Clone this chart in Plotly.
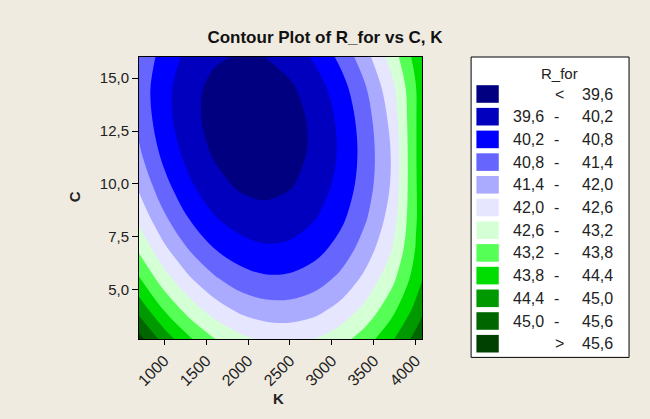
import plotly.graph_objects as go

# grid of the fitted surface (K across, C down)
K_vals = [700, 1000, 1300, 1600, 1900, 2200, 2500, 2800, 3100, 3400, 3700, 4000, 4300]
C_vals = [2.5, 4.0, 5.5, 7.0, 8.5, 10.0, 11.5, 13.0, 14.5, 16.0]
R_for = [
    [45.94, 44.87, 44.01, 43.34, 42.88, 42.62, 42.56, 42.71, 43.05, 43.60, 44.34, 45.29, 46.44],
    [44.83, 43.80, 42.97, 42.34, 41.91, 41.69, 41.67, 41.84, 42.22, 42.80, 43.59, 44.59, 45.78],
    [43.87, 42.87, 42.08, 41.49, 41.09, 40.90, 40.92, 41.13, 41.54, 42.16, 42.98, 44.08, 45.30],
    [43.05, 42.09, 41.33, 40.77, 40.42, 40.26, 40.31, 40.56, 41.01, 41.66, 42.51, 43.82, 45.08],
    [42.38, 41.46, 40.73, 40.21, 39.89, 39.77, 39.85, 40.14, 40.62, 41.31, 42.20, 43.74, 45.03],
    [41.86, 40.97, 40.28, 39.79, 39.50, 39.42, 39.54, 39.86, 40.38, 41.10, 42.02, 43.75, 45.08],
    [41.48, 40.62, 39.97, 39.52, 39.27, 39.22, 39.37, 39.72, 40.28, 41.04, 42.00, 43.76, 45.12],
    [41.24, 40.42, 39.80, 39.39, 39.17, 39.16, 39.35, 39.74, 40.33, 41.12, 42.12, 43.76, 45.16],
    [41.15, 40.38, 39.81, 39.43, 39.26, 39.28, 39.50, 39.91, 40.53, 41.34, 42.35, 43.76, 45.17],
    [41.27, 40.55, 40.02, 39.69, 39.55, 39.60, 39.85, 40.30, 40.94, 41.77, 42.80, 44.02, 45.43],
]

levels = [39.6, 40.2, 40.8, 41.4, 42.0, 42.6, 43.2, 43.8, 44.4, 45.0, 45.6]
level_labels = ["39,6", "40,2", "40,8", "41,4", "42,0", "42,6", "43,2", "43,8", "44,4", "45,0", "45,6"]
band_colors = ["#000080", "#0000BE", "#0000FF", "#6666FF", "#AAAAFF", "#E6E6FF",
               "#D5FFD5", "#55FF55", "#00DD00", "#009900", "#006600", "#004000"]

x_ticks = [1000, 1500, 2000, 2500, 3000, 3500, 4000]
x_ticktext = ["1000", "1500", "2000", "2500", "3000", "3500", "4000"]
y_ticks = [5.0, 7.5, 10.0, 12.5, 15.0]
y_ticktext = ["5,0", "7,5", "10,0", "12,5", "15,0"]

n = len(band_colors)
cs = []
for i, col in enumerate(band_colors):
    a = max(0.0, (i - 0.5) / (n - 1))
    b = min(1.0, (i + 0.5) / (n - 1))
    cs.append([a, col])
    cs.append([b, col])

BG = "#EFEBE1"
FONT = "Liberation Sans"
TXT = "#222222"

fig = go.Figure()
fig.add_trace(go.Contour(
    x=K_vals, y=C_vals, z=R_for,
    autocontour=False,
    contours=dict(start=levels[0], end=levels[-1], size=0.6, coloring="fill", showlines=False),
    line=dict(width=0, smoothing=1.0),
    colorscale=cs, showscale=False, hoverinfo="skip",
))

L, R, T, B = 139.3, 421.7, 57.3, 339.3
W, H = R - L, B - T
def pxx(x):
    return (x - L) / W
def pyy(y):
    return (B - y) / H

shapes = []
annotations = []
shapes.append(dict(type="rect", xref="paper", yref="paper", x0=pxx(470.7), x1=pxx(628.3),
                   y0=pyy(357.7), y1=pyy(57.3), fillcolor="white", line=dict(color="black", width=1)))
annotations.append(dict(xref="paper", yref="paper", x=pxx(559), y=pyy(73.5), text="R_for",
                        showarrow=False, font=dict(family=FONT, size=15, color=TXT),
                        xanchor="center", yanchor="middle"))
for k, col in enumerate(band_colors):
    yc = 94.3 + k * 22.7
    shapes.append(dict(type="rect", xref="paper", yref="paper", x0=pxx(476), x1=pxx(498.3),
                       y0=pyy(yc + 8.8), y1=pyy(yc - 8.8), fillcolor=col, line=dict(width=0)))
    f = dict(family=FONT, size=16, color=TXT)
    if k == 0 or k == n - 1:
        sym = "&lt;" if k == 0 else "&gt;"
        lab = level_labels[0] if k == 0 else level_labels[-1]
        annotations.append(dict(xref="paper", yref="paper", x=pxx(559), y=pyy(yc), text=sym,
                                showarrow=False, font=f, xanchor="center", yanchor="middle"))
        annotations.append(dict(xref="paper", yref="paper", x=pxx(614), y=pyy(yc), text=lab,
                                showarrow=False, font=f, xanchor="right", yanchor="middle"))
    else:
        annotations.append(dict(xref="paper", yref="paper", x=pxx(545), y=pyy(yc), text=level_labels[k - 1],
                                showarrow=False, font=f, xanchor="right", yanchor="middle"))
        annotations.append(dict(xref="paper", yref="paper", x=pxx(556), y=pyy(yc), text="-",
                                showarrow=False, font=f, xanchor="center", yanchor="middle"))
        annotations.append(dict(xref="paper", yref="paper", x=pxx(614), y=pyy(yc), text=level_labels[k],
                                showarrow=False, font=f, xanchor="right", yanchor="middle"))

annotations.append(dict(xref="paper", yref="paper", x=pxx(75), y=pyy(197), text="<b>C</b>", textangle=-90,
                        showarrow=False, font=dict(family=FONT, size=15, color=TXT),
                        xanchor="center", yanchor="middle"))
annotations.append(dict(xref="paper", yref="paper", x=pxx(279), y=pyy(399), text="<b>K</b>",
                        showarrow=False, font=dict(family=FONT, size=15, color=TXT),
                        xanchor="center", yanchor="middle"))

fig.update_layout(
    width=650, height=419,
    margin=dict(l=L, r=650 - R, t=T, b=419 - B, pad=0),
    paper_bgcolor=BG, plot_bgcolor=BG,
    title=dict(text="<b>Contour Plot of R_for vs C, K</b>", x=0.5, xanchor="center",
               y=1 - 37 / 419, yanchor="middle", font=dict(family=FONT, size=17, color="#111111")),
    xaxis=dict(range=[700, 4075], tickvals=x_ticks, ticktext=x_ticktext, tickangle=-45,
               ticks="outside", ticklen=5, tickcolor="black", showline=True, linecolor="black",
               mirror=True, showgrid=False, zeroline=False, automargin=False,
               tickfont=dict(family=FONT, size=16, color=TXT)),
    yaxis=dict(range=[2.67, 16.0], tickvals=y_ticks, ticktext=y_ticktext,
               ticks="outside", ticklen=6, tickcolor="black", showline=True, linecolor="black",
               mirror=True, showgrid=False, zeroline=False, automargin=False,
               tickfont=dict(family=FONT, size=15, color=TXT)),
    shapes=shapes, annotations=annotations, showlegend=False,
)
fig.write_html("out.html", config={"displayModeBar": False},
               post_script="document.body.style.margin='0px';document.body.style.overflow='hidden';")
